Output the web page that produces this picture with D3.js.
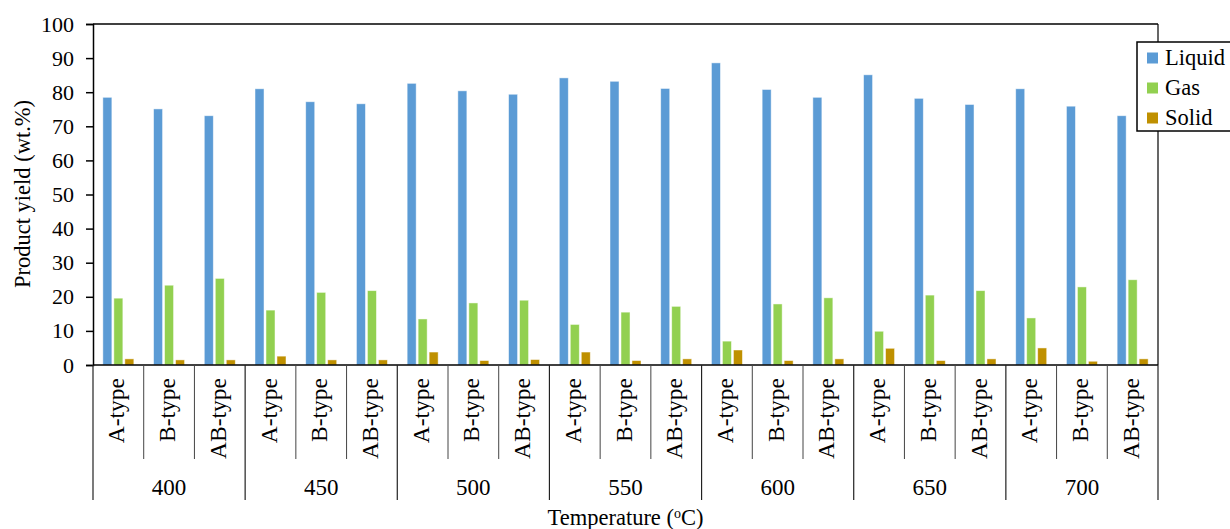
<!DOCTYPE html>
<html>
<head>
<meta charset="utf-8">
<script src="https://cdn.jsdelivr.net/npm/d3@7"></script>
<style>
  body { margin: 0; background: #fff; }
</style>
</head>
<body>
<div id="chart"></div>
<script>
// data
const temperatures = ["400", "450", "500", "550", "600", "650", "700"];
const types = ["A-type", "B-type", "AB-type"];
const seriesNames = ["Liquid", "Gas", "Solid"];
const colors = ["#5B9BD5", "#92D050", "#BF9000"];

// one value per (temperature, type), in order
const liquid = [78.5, 75.1, 73.1, 81.0, 77.2, 76.6, 82.6, 80.4, 79.4, 84.2, 83.2, 81.1,
  88.6, 80.8, 78.5, 85.1, 78.2, 76.4, 81.0, 75.9, 73.1];
const gas = [19.6, 23.4, 25.4, 16.1, 21.3, 21.8, 13.5, 18.2, 19.0, 11.9, 15.5, 17.2,
  7.0, 17.9, 19.7, 9.9, 20.5, 21.8, 13.8, 22.9, 25.0];
const solid = [1.8, 1.5, 1.5, 2.6, 1.5, 1.5, 3.8, 1.3, 1.6, 3.8, 1.3, 1.8,
  4.4, 1.3, 1.8, 4.9, 1.3, 1.8, 5.0, 1.1, 1.8];
const yTicks = [0, 10, 20, 30, 40, 50, 60, 70, 80, 90, 100];

const FONT = "'Liberation Serif'";
const width = 1230, height = 529;
const margin = { left: 93, right: 72, top: 24, bottom: 164 };
const plotW = width - margin.left - margin.right;
const plotH = height - margin.top - margin.bottom;

const categories = [];
temperatures.forEach((t) => types.forEach((ty) => categories.push(t + "|" + ty)));
const series = [liquid, gas, solid];

const svg = d3.select("#chart").append("svg")
  .attr("width", width).attr("height", height);

const g = svg.append("g").attr("transform", `translate(${margin.left},${margin.top})`);

const x = d3.scaleBand().domain(categories).range([0, plotW]);
const y = d3.scaleLinear().domain([0, 100]).range([plotH, 0]);
const xs = d3.scaleBand().domain(seriesNames).range([0, 31]).paddingInner(0.18);

// bars
series.forEach((vals, si) => {
  g.append("g").selectAll("rect")
    .data(vals)
    .enter().append("rect")
    .attr("x", (d, i) => x(categories[i]) + (x.bandwidth() - 31) / 2 + xs(seriesNames[si]))
    .attr("y", (d) => y(d))
    .attr("width", xs.bandwidth())
    .attr("height", (d) => y(0) - y(d))
    .attr("fill", colors[si])
    .attr("stroke", "#ffffff")
    .attr("stroke-opacity", 0.6)
    .attr("stroke-width", 0.8);
});

// frame: top and right
g.append("line").attr("x1", 0).attr("x2", plotW).attr("y1", 0).attr("y2", 0)
  .attr("stroke", "#000").attr("stroke-width", 1.5);
g.append("line").attr("x1", plotW).attr("x2", plotW).attr("y1", 0).attr("y2", plotH)
  .attr("stroke", "#000").attr("stroke-width", 1.2);

// y axis
const yAxis = g.append("g")
  .call(d3.axisLeft(y).tickValues(yTicks).tickSize(7).tickPadding(12));
yAxis.select(".domain").attr("stroke", "#000").attr("stroke-width", 1.5);
yAxis.selectAll(".tick line").attr("stroke", "#000").attr("stroke-width", 1.5);
yAxis.selectAll(".tick text")
  .style("font-family", FONT)
  .style("font-size", "22px")
  .attr("fill", "#000");

// x axis baseline
g.append("line").attr("x1", 0).attr("x2", plotW).attr("y1", plotH).attr("y2", plotH)
  .attr("stroke", "#000").attr("stroke-width", 1.5);

// category dividers
const bottom = g.append("g").attr("transform", `translate(0,${plotH})`);
categories.forEach((c, i) => {
  const isGroup = i % 3 === 0;
  bottom.append("line")
    .attr("x1", x(c)).attr("x2", x(c))
    .attr("y1", 0).attr("y2", isGroup ? 135 : 94)
    .attr("stroke", isGroup ? "#222" : "#444")
    .attr("stroke-width", isGroup ? 1.2 : 1);
});
bottom.append("line")
  .attr("x1", plotW).attr("x2", plotW).attr("y1", 0).attr("y2", 135)
  .attr("stroke", "#222").attr("stroke-width", 1.2);

// type labels (rotated, top-aligned)
bottom.selectAll("text.type")
  .data(categories)
  .enter().append("text")
  .attr("class", "type")
  .attr("transform", (d) => `translate(${x(d) + x.bandwidth() / 2 + 6},13) rotate(-90)`)
  .attr("text-anchor", "end")
  .style("font-family", FONT)
  .style("font-size", "23.5px")
  .text((d) => d.split("|")[1]);

// temperature labels
bottom.selectAll("text.temp")
  .data(temperatures)
  .enter().append("text")
  .attr("class", "temp")
  .attr("x", (d) => x(d + "|B-type") + x.bandwidth() / 2)
  .attr("y", 130)
  .attr("text-anchor", "middle")
  .style("font-family", FONT)
  .style("font-size", "23px")
  .text((d) => d);

// axis titles
const xt = svg.append("text")
  .attr("x", margin.left + plotW / 2)
  .attr("y", 525)
  .attr("text-anchor", "middle")
  .style("font-family", FONT)
  .style("font-size", "22.5px");
xt.append("tspan").text("Temperature (");
xt.append("tspan").attr("baseline-shift", "super").style("font-size", "14px").text("o");
xt.append("tspan").text("C)");

svg.append("text")
  .attr("transform", "translate(30,194) rotate(-90)")
  .attr("text-anchor", "middle")
  .style("font-family", FONT)
  .style("font-size", "22.5px")
  .text("Product yield (wt.%)");

// legend
const legend = svg.append("g").attr("transform", "translate(1137,42)");
legend.append("rect")
  .attr("x", 0).attr("y", 0).attr("width", 100).attr("height", 89)
  .attr("fill", "#fff").attr("stroke", "#000").attr("stroke-width", 1.5);
seriesNames.forEach((name, i) => {
  const row = legend.append("g").attr("transform", `translate(10,${16 + i * 30})`);
  row.append("rect").attr("x", 0).attr("y", -5.5).attr("width", 11).attr("height", 11)
    .attr("fill", colors[i]);
  row.append("text").attr("x", 18).attr("y", 7)
    .style("font-family", FONT)
    .style("font-size", "22.5px").text(name);
});
</script>
</body>
</html>
